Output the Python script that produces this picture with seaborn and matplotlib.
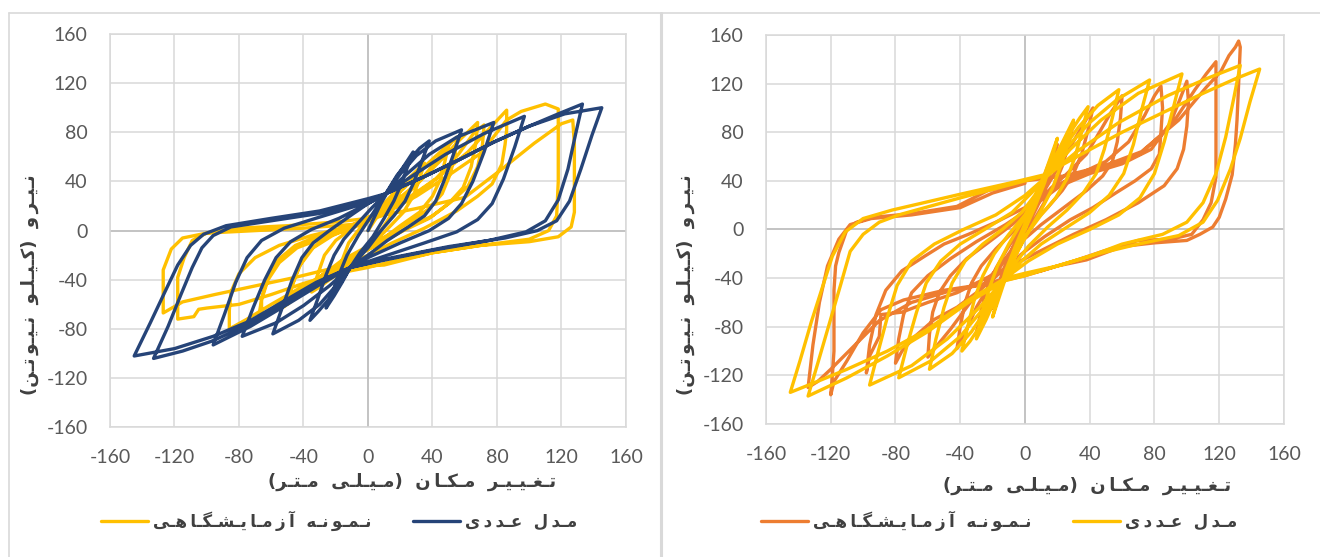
import matplotlib
matplotlib.use("Agg")
import matplotlib.pyplot as plt
from matplotlib.lines import Line2D
from matplotlib.font_manager import FontProperties
import seaborn as sns

# ---------------- data (displacement mm, force kN) ----------------
x_ticks = [-160, -120, -80, -40, 0, 40, 80, 120, 160]
y_ticks = [-160, -120, -80, -40, 0, 40, 80, 120, 160]

xlabel_text = "تغییر مکان (میلی متر)"
ylabel_text = "نیرو (کیلو نیوتن)"
exp_label = "نمونه آزمایشگاهی"
num_label = "مدل عددی"

# left panel: experimental specimen (yellow)
left_exp = [(0,0),(5,10),(10,20),(16,30),(22,40),
(18,25),(14,12),(8,0),(0,-12),(-8,-22),(-14,-30),(-20,-38),
(-16,-24),(-12,-10),(-5,2),(3,12),(12,25),(20,36),(28,46),(35,55),
(32,42),(28,28),(22,15),(14,4),(5,-8),(-5,-18),(-14,-28),(-22,-38),(-30,-46),(-35,-50),
(-31,-35),(-27,-20),(-20,-8),(-10,2),(2,12),(14,24),(25,38),(35,52),(44,63),(50,70),
(48,58),(45,42),(40,28),(32,15),(20,4),(8,-8),(-5,-18),(-18,-28),(-30,-40),(-40,-50),(-50,-60),
(-47,-44),(-42,-28),(-34,-14),(-22,-4),(-8,4),(6,12),(20,24),(32,40),(42,56),(52,72),(55,76),
(54,62),(51,46),(46,30),(38,18),(26,7),(12,-4),(-2,-14),(-16,-24),(-28,-36),(-40,-48),(-52,-62),
(-47,-45),(-43,-30),(-37,-17),(-27,-6),(-12,3),(2,12),(18,25),(32,40),(45,57),(57,74),(68,88),
(67,72),(64,52),(59,35),(50,22),(38,10),(22,0),(5,-12),(-12,-24),(-28,-36),(-43,-50),(-56,-62),(-68,-72),
(-66,-56),(-62,-40),(-55,-26),(-44,-14),(-28,-6),(-10,2),(8,12),(25,25),(42,42),(56,62),(66,80),(72,86),
(71,70),(68,52),(62,36),(52,24),(40,12),(24,2),(8,-10),(-10,-22),(-26,-34),(-42,-48),(-56,-60),(-66,-70),
(-66,-55),(-62,-38),(-56,-24),(-45,-12),(-30,-4),(-10,4),(5,12),(22,24),(42,42),(62,64),(76,84),(86,98),
(86,82),(85,70),(83,54),(77,38),(68,28),(55,16),(35,2),(15,-10),(0,-20),(-20,-32),(-40,-45),(-60,-60),(-75,-72),(-86,-80),
(-86,-65),(-85,-50),(-80,-35),(-70,-22),(-55,-12),(-35,-4),(-10,4),(10,14),(30,28),(50,45),(70,63),(86,90),(95,97),(110,103),
(118,99),(118,70),(118,40),(117,12),(112,0),(100,-7),(70,-12),(40,-18),(15,-25),(0,-30),(-20,-35),(-40,-43),(-60,-52),(-80,-60),(-100,-63),(-105,-64),(-108,-70),(-118,-72),
(-118,-55),(-118,-38),(-114,-22),(-109,-8),(-100,-2),(-80,2),(-50,4),(-20,7),(0,10),(30,18),(60,27),(82,49),(103,71),(120,87),(127,90),
(128,70),(128,40),(128,15),(126,3),(118,-5),(100,-9),(70,-12),(40,-18),(10,-28),(-20,-30),(-45,-38),(-70,-45),(-95,-52),(-115,-58),(-127,-67),
(-127,-50),(-127,-32),(-122,-15),(-115,-6),(-100,-2),(-70,0),(-40,2),(-10,5),(0,8)]

# left panel: numerical model (dark blue)
left_num = [(0,0),(8,22),(15,38),(22,52),(28,64),
(24,50),(20,36),(16,24),(10,10),(3,-5),(-5,-18),(-11,-30),(-16,-42),(-21,-53),(-26,-63),
(-22,-50),(-18,-36),(-13,-20),(-6,-4),(2,12),(11,30),(18,45),(26,58),(32,67),(38,73),
(33,55),(28,38),(23,24),(16,12),(8,0),(0,-14),(-11,-30),(-18,-45),(-25,-57),(-31,-66),(-36,-73),
(-31,-55),(-26,-36),(-21,-20),(-15,-7),(-7,5),(2,18),(11,30),(20,46),(30,61),(42,73),(58,82),
(53,62),(47,40),(42,24),(35,12),(25,3),(12,-8),(0,-20),(-11,-30),(-20,-45),(-30,-60),(-43,-73),(-59,-84),
(-53,-62),(-47,-40),(-41,-22),(-34,-10),(-24,0),(-10,13),(0,22),(11,30),(24,46),(38,62),(55,76),(78,88),
(72,64),(65,40),(58,22),(50,10),(38,0),(20,-10),(0,-22),(-11,-30),(-24,-45),(-40,-61),(-57,-75),(-78,-86),
(-71,-62),(-64,-40),(-57,-22),(-48,-9),(-35,1),(-18,10),(0,22),(11,30),(28,45),(48,62),(72,79),(97,93),
(91,68),(84,42),(77,22),(68,9),(55,-1),(35,-10),(12,-20),(-11,-30),(-30,-44),(-50,-60),(-73,-78),(-96,-93),
(-89,-68),(-82,-42),(-75,-22),(-66,-8),(-52,2),(-30,11),(-5,21),(11,30),(35,44),(57,58),(78,72),(100,85),(118,95),(133,103),
(129,80),(124,50),(118,25),(110,8),(98,-1),(75,-8),(40,-16),(10,-24),(-11,-30),(-32,-42),(-53,-58),(-74,-74),(-96,-86),(-120,-96),(-145,-102),
(-135,-75),(-126,-50),(-118,-28),(-110,-12),(-102,-3),(-88,4),(-60,10),(-30,16),(0,26),(11,30),(35,44),(57,58),(78,72),(100,85),(122,95),(145,100),
(139,78),(132,50),(125,24),(117,8),(105,0),(85,-6),(50,-13),(15,-22),(-11,-30),(-32,-43),(-53,-60),(-75,-77),(-97,-90),(-115,-98),(-133,-104),
(-124,-78),(-116,-52),(-109,-30),(-103,-14),(-96,-4),(-85,3),(-60,8),(-30,14),(0,24),(11,30)]

# right panel: experimental specimen (orange)
right_exp = [(0,0),(5,20),(10,38),(15,55),(20,70),
(17,52),(13,36),(8,20),(2,4),(-4,-12),(-10,-30),(-15,-46),(-20,-65),
(-17,-48),(-13,-32),(-8,-16),(-2,0),(4,16),(10,32),(16,48),(22,62),(26,74),(30,88),
(27,70),(23,52),(18,36),(11,20),(4,4),(-3,-12),(-10,-28),(-17,-46),(-23,-62),(-27,-74),(-30,-85),
(-27,-66),(-23,-48),(-18,-32),(-11,-16),(-3,0),(5,16),(12,32),(20,50),(28,68),(35,84),(42,100),
(39,82),(35,62),(30,46),(23,32),(14,18),(4,4),(-6,-12),(-14,-28),(-22,-46),(-30,-64),(-36,-82),(-42,-98),
(-40,-80),(-37,-60),(-33,-44),(-27,-30),(-18,-16),(-6,0),(6,18),(16,34),(26,46),(38,62),(46,80),(53,96),(60,110),
(59,92),(57,72),(54,56),(48,44),(38,32),(24,18),(10,4),(-4,-12),(-16,-30),(-26,-46),(-36,-64),(-46,-82),(-54,-95),(-60,-105),
(-59,-86),(-57,-68),(-53,-52),(-46,-38),(-36,-24),(-22,-10),(-8,4),(6,20),(20,36),(34,46),(50,56),(64,72),(74,94),(80,110),(84,118),
(85,100),(84,80),(83,62),(78,50),(68,40),(56,30),(42,18),(28,8),(12,-6),(-2,-20),(-14,-34),(-28,-50),(-42,-64),(-56,-74),(-68,-88),(-76,-100),(-80,-110),
(-78,-90),(-75,-70),(-70,-52),(-60,-38),(-46,-24),(-30,-10),(-12,4),(6,20),(22,36),(40,46),(60,54),(78,66),(90,88),(96,108),(100,122),
(101,105),(100,85),(98,66),(94,50),(86,36),(70,22),(50,8),(30,-4),(12,-16),(-6,-28),(-24,-40),(-42,-52),(-60,-60),(-76,-68),(-89,-70),(-90,-88),(-96,-104),(-98,-118),
(-96,-95),(-92,-70),(-86,-50),(-76,-34),(-62,-22),(-50,-12),(-35,-4),(-18,6),(0,18),(15,32),(28,42),(48,50),(71,62),(90,85),(105,115),(112,128),(118,138),
(118,120),(118,95),(118,70),(118,43),(115,22),(110,8),(103,-4),(90,-8),(70,-9),(48,-18),(30,-26),(10,-34),(-10,-40),(-30,-46),(-50,-50),(-75,-58),(-89,-66),(-100,-85),(-110,-108),(-118,-125),(-120,-136),
(-119,-120),(-118,-100),(-118,-75),(-118,-50),(-117,-30),(-115,-19),(-110,0),(-104,6),(-94,10),(-70,13),(-42,19),(-23,32),(0,40),(24,44),(48,52),(72,64),(95,90),(112,117),(121,130),(126,143),(130,150),(132,155),
(133,150),(132,120),(131,90),(130,70),(128,45),(124,25),(120,10),(116,2),(108,-4),(100,-9),(80,-11),(60,-14),(48,-20),(38,-25),(20,-30),(0,-38),(-20,-44),(-45,-50),(-70,-60),(-90,-75),(-105,-95),(-120,-115),(-128,-125),(-134,-130),
(-131,-95),(-127,-60),(-122,-30),(-115,-8),(-108,4),(-95,9),(-70,12),(-40,18),(-20,30),(0,38)]

# right panel: numerical model (yellow)
right_num = [(0,0),(6,25),(12,45),(16,60),(20,75),
(16,55),(12,38),(6,18),(0,0),(-6,-18),(-12,-40),(-16,-56),(-20,-72),
(-16,-52),(-12,-34),(-6,-14),(0,5),(6,24),(12,42),(18,58),(24,74),(30,90),
(26,70),(22,52),(17,34),(10,16),(3,0),(-4,-16),(-12,-40),(-18,-56),(-24,-74),(-30,-90),
(-26,-68),(-22,-48),(-17,-30),(-10,-12),(-2,6),(5,22),(12,42),(20,62),(28,80),(34,92),(39,101),
(35,80),(31,60),(26,42),(19,26),(10,12),(1,-4),(-6,-22),(-12,-40),(-20,-62),(-28,-80),(-34,-92),(-39,-100),
(-35,-78),(-31,-56),(-26,-38),(-19,-20),(-10,-4),(0,12),(6,26),(12,42),(22,64),(33,84),(45,102),(58,115),
(54,92),(49,66),(44,46),(36,30),(26,16),(14,2),(2,-14),(-5,-26),(-12,-40),(-22,-62),(-33,-84),(-45,-102),(-59,-115),
(-55,-90),(-50,-64),(-45,-44),(-37,-26),(-26,-12),(-14,0),(-2,14),(6,28),(12,42),(25,66),(40,88),(57,107),(77,123),
(72,98),(67,70),(61,46),(52,28),(40,14),(26,2),(10,-12),(-2,-26),(-12,-40),(-25,-64),(-40,-88),(-58,-108),(-78,-122),
(-73,-96),(-67,-68),(-61,-44),(-52,-26),(-40,-12),(-25,0),(-8,14),(4,30),(12,42),(28,66),(47,90),(70,112),(97,128),
(92,102),(86,72),(80,46),(71,26),(58,12),(40,0),(20,-12),(2,-26),(-12,-40),(-28,-64),(-48,-90),(-70,-112),(-96,-128),
(-91,-102),(-85,-72),(-79,-46),(-70,-26),(-56,-12),(-38,0),(-18,12),(0,28),(12,42),(32,64),(58,88),(88,110),(112,124),(133,135),
(129,108),(124,76),(118,46),(110,22),(100,6),(85,-4),(60,-12),(40,-22),(20,-30),(0,-36),(-12,-40),(-35,-58),(-60,-82),(-85,-100),(-110,-115),(-130,-126),(-145,-134),
(-139,-108),(-132,-76),(-125,-47),(-119,-22),(-111,-2),(-100,9),(-82,16),(-40,29),(-10,38),(12,45),(35,62),(60,80),(85,96),(110,112),(130,124),(145,132),
(139,105),(133,75),(127,50),(119,24),(110,6),(95,-5),(70,-12),(45,-20),(20,-30),(0,-38),(-12,-42),(-35,-60),(-60,-84),(-85,-104),(-110,-122),(-134,-137),
(-128,-110),(-121,-78),(-114,-46),(-108,-18),(-100,-4),(-90,6),(-78,12),(-40,26),(0,40),(12,44)]

# ---------------- Persian shaping (visual order, presentation forms) ----------------
FORMS = {
    'ت': ('\uFE95', '\uFE96', '\uFE97', '\uFE98'),
    'غ': ('\uFECD', '\uFECE', '\uFECF', '\uFED0'),
    'ی': ('\uFBFC', '\uFBFD', '\uFBFE', '\uFBFF'),
    'م': ('\uFEE1', '\uFEE2', '\uFEE3', '\uFEE4'),
    'ک': ('\uFB8E', '\uFB8F', '\uFB90', '\uFB91'),
    'ن': ('\uFEE5', '\uFEE6', '\uFEE7', '\uFEE8'),
    'ل': ('\uFEDD', '\uFEDE', '\uFEDF', '\uFEE0'),
    'ه': ('\uFEE9', '\uFEEA', '\uFEEB', '\uFEEC'),
    'ش': ('\uFEB5', '\uFEB6', '\uFEB7', '\uFEB8'),
    'گ': ('\uFB92', '\uFB93', '\uFB94', '\uFB95'),
    'ع': ('\uFEC9', '\uFECA', '\uFECB', '\uFECC'),
    'ر': ('\uFEAD', '\uFEAE', None, None),
    'ز': ('\uFEAF', '\uFEB0', None, None),
    'و': ('\uFEED', '\uFEEE', None, None),
    'ا': ('\uFE8D', '\uFE8E', None, None),
    'آ': ('\uFE81', '\uFE82', None, None),
    'د': ('\uFEA9', '\uFEAA', None, None),
}
DUAL = {k for k, v in FORMS.items() if v[2] is not None}


def shape(text):
    chars = list(text)
    out = []
    for i, c in enumerate(chars):
        if c not in FORMS:
            out.append('  ' if c == ' ' else c)
            continue
        prev = chars[i - 1] if i > 0 else None
        nxt = chars[i + 1] if i + 1 < len(chars) else None
        jp = prev in DUAL
        jn = (c in DUAL) and (nxt in FORMS)
        f = FORMS[c]
        if jp and jn:
            g = f[3]
        elif jp:
            g = f[1]
        elif jn:
            g = f[2]
        else:
            g = f[0]
        out.append(g)
        if jn:
            out.append('\u0640')
        elif nxt in FORMS:
            out.append('\u2009')
    vis = ''.join(reversed(out))
    return vis.translate(str.maketrans('()', ')('))


# ---------------- style ----------------
sns.set_style("white")
plt.rcParams['font.family'] = ['Lato', 'DejaVu Sans']
plt.rcParams['axes.unicode_minus'] = False

FA = FontProperties(family='DejaVu Sans', weight='bold', size=13)
FA_LEG = FontProperties(family='DejaVu Sans', weight='bold', size=12)

GRID = '#D9D9D9'
ZERO = '#BFBFBF'
TXT = '#595959'
LAB = '#404040'

fig = plt.figure(figsize=(13.2, 5.57), dpi=100)
ax1 = fig.add_axes([0.08333, 0.2329, 0.3909, 0.7061])
ax2 = fig.add_axes([0.5803, 0.2388, 0.3924, 0.6984])

panels = [
    (ax1, left_exp, left_num, '#FFC000', '#264478', (0.585, -0.139), (-0.155, 0.362), 0.257),
    (ax2, right_exp, right_num, '#ED7D31', '#FFC000', (0.62, -0.159), (-0.154, 0.357), 0.757),
]

for ax, exp, num, cexp, cnum, xl, yl, legx in panels:
    ex, ey = zip(*exp)
    nx, ny = zip(*num)
    sns.lineplot(x=list(ex), y=list(ey), sort=False, estimator=None, color=cexp,
                 lw=2.4, ax=ax, label=shape(exp_label), zorder=3)
    sns.lineplot(x=list(nx), y=list(ny), sort=False, estimator=None, color=cnum,
                 lw=2.4, ax=ax, label=shape(num_label), zorder=4)
    ax.set_xlim(-160, 160)
    ax.set_ylim(-160, 160)
    ax.set_xticks(x_ticks)
    ax.set_yticks(y_ticks)
    ax.grid(True, color=GRID, lw=1.1)
    ax.set_axisbelow(True)
    ax.axhline(0, color=ZERO, lw=1.2, zorder=1)
    ax.axvline(0, color=ZERO, lw=1.2, zorder=1)
    for s in ax.spines.values():
        s.set_color(GRID)
        s.set_linewidth(1.1)
    ax.tick_params(axis='both', length=0, labelsize=14, labelcolor=TXT, pad=16)
    ax.set_xlabel(shape(xlabel_text), fontproperties=FA, color=LAB, va='center')
    ax.xaxis.set_label_coords(*xl)
    ax.set_ylabel(shape(ylabel_text), fontproperties=FA, color=LAB, va='center')
    ax.yaxis.set_label_coords(*yl)
    h, l = ax.get_legend_handles_labels()
    ax.legend(h, l, ncol=2, frameon=False, loc='center', bbox_to_anchor=(legx, 0.065),
              bbox_transform=fig.transFigure, prop=FA_LEG, labelcolor=LAB,
              handlelength=2.8, handletextpad=0.3, columnspacing=2.5)

# chart frames
fig.add_artist(Line2D([9 / 1320, 1.0], [1 - 13 / 557] * 2, transform=fig.transFigure, color=GRID, lw=1.2))
fig.add_artist(Line2D([9 / 1320] * 2, [0, 1 - 13 / 557], transform=fig.transFigure, color=GRID, lw=1.2))
fig.add_artist(Line2D([660.5 / 1320] * 2, [0, 1 - 13 / 557], transform=fig.transFigure, color=GRID, lw=2.2))

fig.savefig("out.png", dpi=100)
